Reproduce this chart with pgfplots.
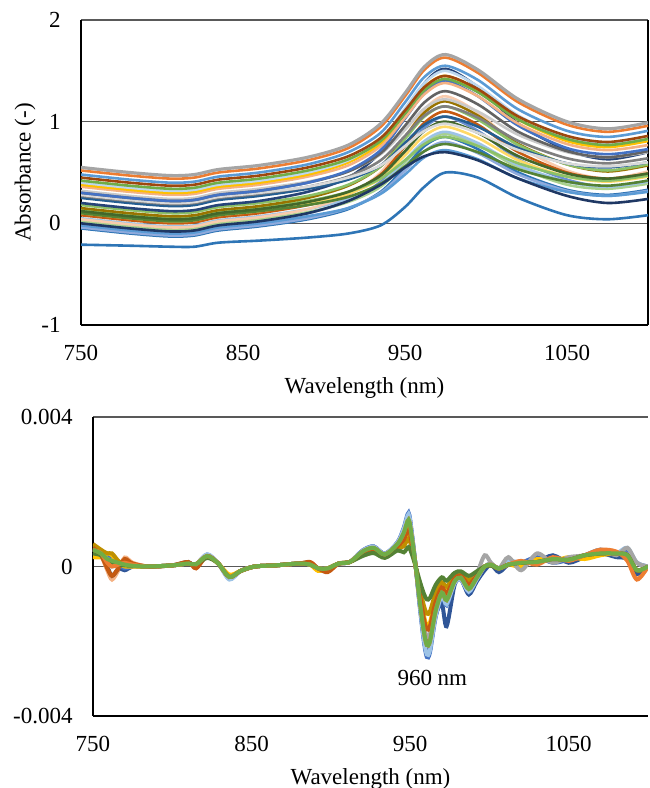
\documentclass[border=0pt]{standalone}
\usepackage{fontspec}
\setmainfont{Liberation Serif}
\usepackage{pgfplots}
\usepackage{pgfplotstable}
\pgfplotsset{compat=1.18}

\definecolor{gridgray}{HTML}{595959}
% top panel colours
\definecolor{t1}{HTML}{A5A5A5}
\definecolor{t2}{HTML}{ED7D31}
\definecolor{t3}{HTML}{5B9BD5}
\definecolor{t4}{HTML}{9E480E}
\definecolor{t5}{HTML}{264478}
\definecolor{t6}{HTML}{70AD47}
\definecolor{t7}{HTML}{FFC000}
\definecolor{t8}{HTML}{F4B183}
\definecolor{t9}{HTML}{4472C4}
\definecolor{t10}{HTML}{636363}
\definecolor{t11}{HTML}{997300}
\definecolor{t12}{HTML}{43682B}
\definecolor{t13}{HTML}{C9C9C9}
\definecolor{t14}{HTML}{255E91}
\definecolor{t15}{HTML}{8CC168}
\definecolor{t16}{HTML}{C55A11}
\definecolor{t17}{HTML}{1F3864}
\definecolor{t18}{HTML}{9DC3E6}
\definecolor{t19}{HTML}{FFD966}
\definecolor{t20}{HTML}{A9D18E}
\definecolor{t21}{HTML}{2E75B6}
\definecolor{t22}{HTML}{548235}
\definecolor{t23}{HTML}{F8CBAD}
\definecolor{t24}{HTML}{8FAADC}
\definecolor{t25}{HTML}{7F7F7F}
\definecolor{t26}{HTML}{5B9BD5}
\definecolor{t27}{HTML}{D9D9D9}
\definecolor{t28}{HTML}{2E75B6}
\definecolor{t29}{HTML}{BDD7EE}
\definecolor{t30}{HTML}{698ED0}
\definecolor{t31}{HTML}{8CC168}
% bottom panel colours
\definecolor{ba}{HTML}{F4B183}
\definecolor{bb}{HTML}{595959}
\definecolor{bc}{HTML}{2F5597}
\definecolor{bd}{HTML}{4472C4}
\definecolor{be}{HTML}{9DC3E6}
\definecolor{bf}{HTML}{FFC000}
\definecolor{bg}{HTML}{BF9000}
\definecolor{bh}{HTML}{A5A5A5}
\definecolor{bi}{HTML}{C55A11}
\definecolor{bj}{HTML}{548235}
\definecolor{bk}{HTML}{ED7D31}
\definecolor{bl}{HTML}{70AD47}

% second derivative, in units of 1e-4
\pgfplotstableread{
nm    a     b     c     d     e     f     g     h     i     j     k     l
750   5     5.5   3     4     4.5   2.5   6     4.5   5     3.5   4.5   4.5
755   3     4     3.5   4     3.5   2.5   4.5   3.5   3     3     3.5   3.5
759   -1    0     3.5   3     2     3.5   3.5   1     -0.5  1.5   1     2
762   -3.5  -2.5  3     2.5   1.5   3     3.5   0     -2.5  0.5   0     1.5
766   -1    -0.5  0     0.5   1     1     1.5   0.5   -0.5  0.5   0.5   1
770   2.4   1.5   -1    -0.5  0.5   0     0.5   1     2     0.3   1     0.5
775   1     0.5   0     0     0.2   0     0.2   0.5   0.8   0.2   0.5   0.2
785   0     0     0     0     0     0     0     0     0     0     0     0
800   0.3   0.3   0.3   0.3   0.3   0.3   0.3   0.3   0.3   0.3   0.3   0.3
810   0.8   1.2   0.8   0.8   0.8   0.8   0.8   0.8   1.2   0.8   0.8   0.8
815   0.6   -0.3  0.6   0.6   0.6   0.6   0.6   0.6   -0.5  0.6   0.6   0.6
822   2.8   2.8   3.2   2.8   3.3   2.8   2.8   2.8   2.8   2.3   2.8   2.8
829   0.8   0.8   0.8   0.8   0.8   0.8   0.8   0.8   0.8   0.8   0.8   0.8
836   -2.8  -2.8  -2.8  -3.3  -3.5  -2.2  -2.8  -2.8  -2.8  -2.8  -2.8  -2.8
843   -1.2  -1.2  -1.2  -1.2  -1.2  -1.2  -1.2  -1.2  -1.2  -1.2  -1.2  -1.2
852   0     0     0     0     0     0     0     0     0     0     0     0
865   0.3   0.3   0.3   0.3   0.3   0.3   0.3   0.3   0.3   0.3   0.3   0.3
880   0.8   0.8   0.8   0.8   0.8   0.8   0.8   0.8   0.8   0.8   0.8   0.8
887   0.5   1     0.5   0.5   0.5   0.5   0.5   0.5   1.2   0.5   0.5   0.5
892   -0.5  -0.5  -0.5  -0.5  -0.5  -1.2  -0.5  -0.5  -0.5  -0.5  -0.5  -0.5
898   -0.5  -1    -0.5  -0.5  -0.5  -0.5  -0.5  -0.5  -1.5  -0.5  -0.5  -0.5
905   0.8   0.8   0.8   0.8   0.8   0.8   0.8   0.8   0.8   0.8   0.8   0.8
912   1.2   1.2   1.2   1.2   1.2   1.2   1.2   1.2   1.2   1.2   1.2   1.2
920   4.1   3.9   4.2   4.3   4.2   3.5   3.2   3.8   3.6   2.8   4     4
927   5.1   4.9   5.3   5.4   5.3   4.4   4.0   4.8   4.5   3.6   5     5
934   3.3   3.1   3.4   3.4   3.4   2.8   2.6   3.0   2.9   2.3   3.2   3.2
942   6.2   5.9   6.3   6.5   6.4   5.3   4.8   5.7   5.4   4.3   6     6
946   9.5   8.6   9.9   10.4  10.1  6.8   5.4   8.1   7.2   3.8   9     9
949   13.1  11.9  13.8  14.4  14.0  9.4   7.5   11.3  10.0  5.2   12.5  12.5
951   8.4   7.6   8.8   9.2   9.0   6.0   4.8   7.2   6.4   3.4   8     8
953.5 0     0     0     0     0     0     0     0     0     0     0     0
956   -9.5  -8.6  -9.9  -10.4 -10.1 -6.8  -5.4  -8.1  -7.2  -3.8  -9    -9
958.5 -17.9 -16.2 -18.7 -19.6 -19.0 -12.8 -10.2 -15.3 -13.6 -7.1  -17   -17
960.5 -22   -20   -23.1 -24.2 -23.5 -15.8 -12.6 -18.9 -16.8 -8.8  -21   -21
962.5 -21   -19   -22   -23   -22.4 -15   -12   -18   -16   -8.4  -20   -20
966   -12.6 -11.4 -13.2 -13.8 -13.4 -9    -7.2  -10.8 -9.6  -5    -12   -12
970   -7.4  -6.7  -10   -8    -7.8  -5.3  -4.2  -6.3  -5.6  -2.9  -7    -7
973   -9.5  -8.6  -16   -10.4 -10.1 -6.8  -5.4  -8.1  -7.2  -3.8  -9    -9
978   -4.2  -3.8  -5    -4.6  -4.5  -3    -2.4  -3.6  -3.2  -1.7  -4    -4
982   -3.2  -2.9  -3.3  -3.5  -3.4  -2.3  -1.8  -2.7  -2.4  -1.3  -3    -3
987   -6.3  -5.7  -7.5  -6.9  -6.7  -4.5  -3.6  -5.4  -4.8  -2.5  -6    -6
992   -3.2  -2.9  -4    -3.5  -3.4  -2.3  -1.8  -2    -2.4  -1.3  -3    -3
997   0     0     -1    0     0     0     0     3     0     0     0     0
1001  0.5   0.5   0.5   0.6   0.6   0.4   0.3   1     0.4   0.2   0.5   0.5
1006  -0.5  -0.5  -1.5  -0.5  -0.5  -0.5  -0.5  -0.5  -0.5  -0.5  -0.5  -0.5
1012  0.5   0.5   0.5   0.5   1.5   0.5   0.5   2.5   0.5   0.5   0.5   0.5
1020  1     1     1     1     1     0     1     -1    1     1     1.5   1
1030  1.2   1.2   1.2   2.5   1.2   2     1.2   3.5   1.2   1.2   0.5   1.2
1040  2     2     3     1     2     1.5   2     1     2     2     2.5   2
1050  1.8   1.8   1     1.8   1.8   2.5   1.8   2.5   1.8   1.8   1.5   1.8
1060  3     3     2.5   3     3     2     3     3     3     3     3     3
1070  3.5   3.5   3.5   4.5   3.5   3     3.5   4.5   3.5   3.5   4.5   3.5
1080  3.5   3.5   2.5   3.5   3.5   3.5   3.5   3     3.5   3.5   4     3.5
1087  4     3     2     4.5   5     3     3     5     3     3     1.5   3
1093  -3    -1    -2    1     1     -1    -1    1     -1    -1    -3.5  -1
1100  0     0     0     0     0     0     0     0     0     0     0     0
}\deriv

\pgfplotsset{
  panel/.style={
    scale only axis,
    xmin=750, xmax=1100,
    axis line style={black, line width=0.75pt, -},
    xtick={750,850,950,1050}, xticklabels={750,850,950,1050},
    ymajorgrids,
    major grid style={color=gridgray, line width=0.75pt},
    major tick length=0pt,
    xticklabel style={yshift=-6.5pt},
    yticklabel style={xshift=-6.7pt},
    xlabel={Wavelength (nm)},
  },
}

\begin{document}
\begin{tikzpicture}[font=\fontsize{11.5}{13.8}\selectfont]
\useasboundingbox (0,0) rectangle (324.5pt,394pt);

% ---- absorbance spectra ----
\begin{axis}[panel,
  at={(40.5pt,231.5pt)}, anchor=south west,
  width=283.5pt, height=152.5pt,
  ymin=-1, ymax=2,
  axis x line*=bottom, axis y line*=box,
  ytick={-1,0,1,2}, yticklabels={-1,0,1,2},
  ylabel={Absorbance (-)},
  xlabel style={at={(axis description cs:0.5,-0.205)}, anchor=center},
  ylabel style={at={(axis description cs:-0.0988,0.5)}, anchor=center},
  every axis plot/.append style={smooth, line width=1.3pt, mark=none},
]
\addplot[t28] coordinates {(750,-.21)(780,-.22)(805,-.23)(820,-.23)(835,-.19)(860,-.17)(890,-.14)(915,-.10)(935,-.02)(950,.16)(962,.36)(975,.50)(995,.45)(1020,.25)(1050,.08)(1075,.04)(1100,.08)};
\addplot[t21] coordinates {(750,-.05)(780,-.10)(805,-.13)(820,-.12)(835,-.07)(860,-.03)(890,.04)(915,.14)(935,.31)(950,.55)(962,.76)(975,.85)(995,.73)(1020,.50)(1050,.33)(1075,.28)(1100,.33)};
\addplot[t24] coordinates {(750,-.04)(780,-.09)(805,-.12)(820,-.11)(835,-.06)(860,-.02)(890,.05)(915,.15)(935,.30)(950,.52)(962,.71)(975,.80)(995,.69)(1020,.48)(1050,.32)(1075,.27)(1100,.32)};
\addplot[t26] coordinates {(750,-.02)(780,-.07)(805,-.10)(820,-.09)(835,-.04)(860,.00)(890,.07)(915,.15)(935,.29)(950,.48)(962,.65)(975,.72)(995,.63)(1020,.44)(1050,.31)(1075,.27)(1100,.31)};
\addplot[t30] coordinates {(750,.00)(780,-.05)(805,-.08)(820,-.07)(835,-.02)(860,.02)(890,.10)(915,.22)(935,.41)(950,.70)(962,.94)(975,1.05)(995,.91)(1020,.63)(1050,.43)(1075,.36)(1100,.42)};
\addplot[t20] coordinates {(750,.02)(780,-.03)(805,-.06)(820,-.05)(835,.00)(860,.04)(890,.11)(915,.21)(935,.36)(950,.60)(962,.79)(975,.88)(995,.77)(1020,.55)(1050,.38)(1075,.34)(1100,.39)};
\addplot[t18] coordinates {(750,.05)(780,.00)(805,-.03)(820,-.02)(835,.03)(860,.07)(890,.14)(915,.24)(935,.39)(950,.62)(962,.81)(975,.90)(995,.79)(1020,.57)(1050,.41)(1075,.36)(1100,.41)};
\addplot[t23] coordinates {(750,.04)(780,-.01)(805,-.04)(820,-.03)(835,.02)(860,.06)(890,.14)(915,.28)(935,.50)(950,.84)(962,1.12)(975,1.25)(995,1.09)(1020,.76)(1050,.52)(1075,.44)(1100,.51)};
\addplot[t16] coordinates {(750,.08)(780,.03)(805,.00)(820,.01)(835,.06)(860,.10)(890,.18)(915,.29)(935,.48)(950,.76)(962,.99)(975,1.10)(995,.97)(1020,.70)(1050,.50)(1075,.44)(1100,.49)};
\addplot[t19] coordinates {(750,.10)(780,.05)(805,.02)(820,.03)(835,.08)(860,.12)(890,.19)(915,.29)(935,.44)(950,.67)(962,.86)(975,.95)(995,.84)(1020,.62)(1050,.46)(1075,.41)(1100,.46)};
\addplot[t22] coordinates {(750,.10)(780,.05)(805,.02)(820,.03)(835,.08)(860,.12)(890,.18)(915,.26)(935,.39)(950,.56)(962,.71)(975,.78)(995,.70)(1020,.53)(1050,.41)(1075,.37)(1100,.42)};
\addplot[t31] coordinates {(750,.14)(780,.09)(805,.06)(820,.07)(835,.12)(860,.16)(890,.22)(915,.31)(935,.44)(950,.62)(962,.78)(975,.85)(995,.76)(1020,.59)(1050,.46)(1075,.42)(1100,.47)};
\addplot[t12] coordinates {(750,.12)(780,.07)(805,.04)(820,.05)(835,.10)(860,.14)(890,.21)(915,.31)(935,.47)(950,.71)(962,.91)(975,1.00)(995,.89)(1020,.66)(1050,.49)(1075,.44)(1100,.49)};
\addplot[t11] coordinates {(750,.15)(780,.10)(805,.07)(820,.08)(835,.13)(860,.17)(890,.25)(915,.37)(935,.56)(950,.85)(962,1.09)(975,1.20)(995,1.06)(1020,.78)(1050,.58)(1075,.51)(1100,.57)};
\addplot[t15] coordinates {(750,.18)(780,.13)(805,.10)(820,.11)(835,.16)(860,.20)(890,.27)(915,.38)(935,.56)(950,.83)(962,1.05)(975,1.15)(995,1.02)(1020,.77)(1050,.58)(1075,.52)(1100,.58)};
\addplot[t17] coordinates {(750,.00)(780,-.05)(805,-.08)(820,-.07)(835,-.02)(860,.02)(890,.10)(915,.22)(935,.38)(950,.55)(962,.66)(975,.70)(995,.62)(1020,.44)(1050,.27)(1075,.20)(1100,.24)};
\addplot[t5] coordinates {(750,.20)(780,.15)(805,.12)(820,.13)(835,.18)(860,.22)(890,.31)(915,.45)(935,.70)(950,1.07)(962,1.38)(975,1.52)(995,1.34)(1020,.98)(1050,.72)(1075,.63)(1100,.70)};
\addplot[t14] coordinates {(750,.25)(780,.20)(805,.17)(820,.18)(835,.23)(860,.27)(890,.34)(915,.43)(935,.57)(950,.79)(962,.97)(975,1.05)(995,.95)(1020,.74)(1050,.59)(1075,.55)(1100,.60)};
\addplot[t25] coordinates {(750,.27)(780,.22)(805,.19)(820,.20)(835,.25)(860,.29)(890,.36)(915,.46)(935,.62)(950,.86)(962,1.06)(975,1.15)(995,1.04)(1020,.81)(1050,.64)(1075,.59)(1100,.64)};
\addplot[t27] coordinates {(750,.28)(780,.23)(805,.20)(820,.21)(835,.26)(860,.30)(890,.36)(915,.45)(935,.57)(950,.76)(962,.91)(975,.98)(995,.89)(1020,.72)(1050,.59)(1075,.56)(1100,.60)};
\addplot[t13] coordinates {(750,.32)(780,.27)(805,.24)(820,.25)(835,.30)(860,.34)(890,.41)(915,.51)(935,.68)(950,.92)(962,1.13)(975,1.22)(995,1.10)(1020,.87)(1050,.70)(1075,.65)(1100,.70)};
\addplot[t10] coordinates {(750,.30)(780,.25)(805,.22)(820,.23)(835,.28)(860,.32)(890,.40)(915,.51)(935,.69)(950,.96)(962,1.19)(975,1.30)(995,1.17)(1020,.90)(1050,.71)(1075,.65)(1100,.71)};
\addplot[t9] coordinates {(750,.30)(780,.25)(805,.22)(820,.23)(835,.28)(860,.32)(890,.40)(915,.52)(935,.72)(950,1.03)(962,1.28)(975,1.40)(995,1.25)(1020,.96)(1050,.74)(1075,.68)(1100,.73)};
\addplot[t8] coordinates {(750,.36)(780,.31)(805,.28)(820,.29)(835,.34)(860,.38)(890,.46)(915,.57)(935,.76)(950,1.04)(962,1.27)(975,1.38)(995,1.25)(1020,.98)(1050,.78)(1075,.72)(1100,.77)};
\addplot[t7] coordinates {(750,.38)(780,.33)(805,.30)(820,.31)(835,.36)(860,.40)(890,.48)(915,.60)(935,.79)(950,1.09)(962,1.34)(975,1.45)(995,1.31)(1020,1.02)(1050,.81)(1075,.75)(1100,.81)};
\addplot[t29] coordinates {(750,.40)(780,.35)(805,.32)(820,.33)(835,.38)(860,.42)(890,.50)(915,.62)(935,.82)(950,1.13)(962,1.38)(975,1.50)(995,1.35)(1020,1.06)(1050,.84)(1075,.78)(1100,.83)};
\addplot[t6] coordinates {(750,.42)(780,.37)(805,.34)(820,.35)(835,.40)(860,.44)(890,.52)(915,.63)(935,.81)(950,1.08)(962,1.31)(975,1.42)(995,1.29)(1020,1.02)(1050,.83)(1075,.77)(1100,.83)};
\addplot[t4] coordinates {(750,.45)(780,.40)(805,.37)(820,.38)(835,.43)(860,.47)(890,.55)(915,.66)(935,.84)(950,1.11)(962,1.34)(975,1.45)(995,1.32)(1020,1.05)(1050,.86)(1075,.80)(1100,.86)};
\addplot[t3] coordinates {(750,.48)(780,.43)(805,.40)(820,.41)(835,.46)(860,.50)(890,.58)(915,.70)(935,.89)(950,1.19)(962,1.44)(975,1.55)(995,1.41)(1020,1.12)(1050,.91)(1075,.85)(1100,.91)};
\addplot[t2] coordinates {(750,.52)(780,.47)(805,.44)(820,.45)(835,.50)(860,.54)(890,.62)(915,.74)(935,.95)(950,1.25)(962,1.51)(975,1.63)(995,1.48)(1020,1.19)(1050,.97)(1075,.90)(1100,.96)};
\addplot[t1, line width=1.6pt] coordinates {(750,.55)(780,.50)(805,.47)(820,.48)(835,.53)(860,.57)(890,.65)(915,.77)(935,.98)(950,1.28)(962,1.54)(975,1.66)(995,1.51)(1020,1.22)(1050,1.00)(1075,.93)(1100,.99)};
\end{axis}

% ---- second derivative ----
\begin{axis}[panel,
  at={(46.5pt,36pt)}, anchor=south west,
  width=277.5pt, height=149.5pt,
  ymin=-40, ymax=40,
  axis x line*=bottom, axis y line*=left,
  ytick={-40,0,40}, yticklabels={-0.004,0,0.004},
  xlabel style={at={(axis description cs:0.5,-0.211)}, anchor=center},
  every axis plot/.append style={smooth, line width=2pt, mark=none},
]
\addplot[ba] table[x=nm, y=a] {\deriv};
\addplot[bb] table[x=nm, y=b] {\deriv};
\addplot[bc] table[x=nm, y=c] {\deriv};
\addplot[bd] table[x=nm, y=d] {\deriv};
\addplot[be] table[x=nm, y=e] {\deriv};
\addplot[bf] table[x=nm, y=f] {\deriv};
\addplot[bg] table[x=nm, y=g] {\deriv};
\addplot[bh] table[x=nm, y=h] {\deriv};
\addplot[bi] table[x=nm, y=i] {\deriv};
\addplot[bj] table[x=nm, y=j] {\deriv};
\addplot[bk] table[x=nm, y=k] {\deriv};
\addplot[bl] table[x=nm, y=l] {\deriv};
\node at (axis cs:964,-29.7) {960 nm};
\end{axis}
\end{tikzpicture}
\end{document}
